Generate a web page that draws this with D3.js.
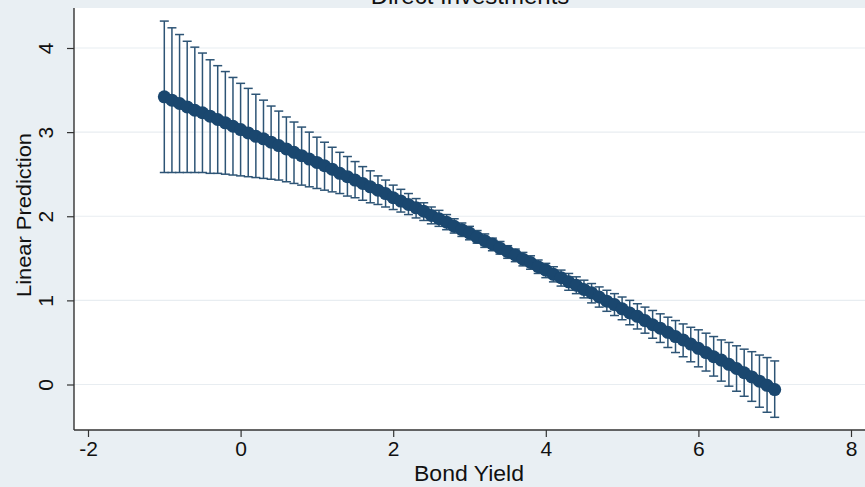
<!DOCTYPE html>
<html>
<head>
<meta charset="utf-8">
<script src="https://cdn.jsdelivr.net/npm/d3@7"></script>
<style>
  html, body { margin: 0; padding: 0; background: #e9eff3; }
  svg { display: block; font-family: "Liberation Sans", Arial, sans-serif; }
</style>
</head>
<body>
<svg id="chart" width="865" height="487"></svg>
<script>
// Predictive margins of the linear prediction over bond yield, with 95% CIs
const bondYield = d3.range(81).map(i => +(-1 + i * 0.1).toFixed(1));
const prediction = [
  3.42, 3.38, 3.34, 3.30, 3.26, 3.23, 3.19, 3.15, 3.11, 3.07,
  3.03, 2.99, 2.95, 2.92, 2.88, 2.84, 2.80, 2.76, 2.72, 2.68,
  2.64, 2.60, 2.56, 2.51, 2.47, 2.43, 2.39, 2.35, 2.31, 2.27,
  2.22, 2.18, 2.14, 2.10, 2.06, 2.01, 1.97, 1.93, 1.88, 1.84,
  1.80, 1.75, 1.71, 1.67, 1.62, 1.58, 1.54, 1.49, 1.45, 1.40,
  1.36, 1.31, 1.27, 1.22, 1.18, 1.13, 1.09, 1.04, 0.99, 0.95,
  0.90, 0.85, 0.81, 0.76, 0.71, 0.67, 0.62, 0.57, 0.53, 0.48,
  0.43, 0.38, 0.33, 0.29, 0.24, 0.19, 0.14, 0.09, 0.04, -0.01,
  -0.06
];
const ciLower = [
  2.52, 2.52, 2.52, 2.52, 2.52, 2.52, 2.51, 2.51, 2.50, 2.49,
  2.48, 2.47, 2.46, 2.45, 2.44, 2.43, 2.41, 2.39, 2.37, 2.35,
  2.33, 2.31, 2.29, 2.27, 2.24, 2.22, 2.19, 2.16, 2.14, 2.11,
  2.08, 2.05, 2.02, 1.98, 1.95, 1.91, 1.88, 1.84, 1.80, 1.76,
  1.72, 1.68, 1.63, 1.59, 1.55, 1.50, 1.46, 1.41, 1.37, 1.32,
  1.27, 1.22, 1.17, 1.12, 1.08, 1.03, 0.97, 0.92, 0.87, 0.82,
  0.77, 0.71, 0.66, 0.61, 0.55, 0.50, 0.44, 0.38, 0.33, 0.27,
  0.21, 0.16, 0.10, 0.04, -0.02, -0.08, -0.14, -0.20, -0.27, -0.33,
  -0.39
];
const ciUpper = [
  4.32, 4.24, 4.16, 4.08, 4.01, 3.94, 3.86, 3.79, 3.72, 3.65,
  3.58, 3.52, 3.45, 3.38, 3.31, 3.25, 3.18, 3.12, 3.06, 3.00,
  2.94, 2.88, 2.82, 2.76, 2.71, 2.65, 2.59, 2.54, 2.48, 2.43,
  2.37, 2.32, 2.27, 2.21, 2.16, 2.11, 2.07, 2.02, 1.97, 1.92,
  1.88, 1.83, 1.79, 1.74, 1.70, 1.65, 1.61, 1.57, 1.53, 1.48,
  1.44, 1.40, 1.36, 1.32, 1.28, 1.24, 1.20, 1.16, 1.12, 1.08,
  1.04, 1.00, 0.96, 0.92, 0.88, 0.84, 0.80, 0.76, 0.72, 0.68,
  0.65, 0.61, 0.57, 0.53, 0.50, 0.46, 0.42, 0.39, 0.35, 0.32,
  0.28
];
const xTicks = [-2, 0, 2, 4, 6, 8];
const yTicks = [0, 1, 2, 3, 4];

const titleText = "Direct Investments";
const xTitle = "Bond Yield";
const yTitle = "Linear Prediction";

const navy = "#1a476f";
const svg = d3.select("#chart");

// plot region
const plot = { left: 74, right: 866, top: 8, bottom: 430 };
const x = d3.scaleLinear().domain([-2, 8]).range([88, 851]);
const y = d3.scaleLinear().domain([0, 4]).range([384.5, 48]);

svg.append("rect")
  .attr("x", plot.left).attr("y", plot.top)
  .attr("width", plot.right - plot.left).attr("height", plot.bottom - plot.top)
  .attr("fill", "#ffffff");

// horizontal grid
svg.append("g").selectAll("line").data(yTicks).join("line")
  .attr("x1", plot.left).attr("x2", plot.right)
  .attr("y1", d => y(d)).attr("y2", d => y(d))
  .attr("stroke", "#e8edf1").attr("stroke-width", 1.2);

// y axis
const yAxis = svg.append("g")
  .attr("transform", `translate(${plot.left},0)`)
  .call(d3.axisLeft(y).tickValues(yTicks).tickSize(7).tickPadding(0).tickFormat(d3.format("d")));
yAxis.select(".domain").remove();
yAxis.selectAll(".tick line").attr("stroke", "#333").attr("stroke-width", 1.2);
yAxis.selectAll(".tick text")
  .attr("transform", "rotate(-90)")
  .attr("x", 0).attr("y", -21).attr("dy", 0)
  .attr("text-anchor", "middle")
  .attr("font-size", 21).attr("fill", "#111");
svg.append("line")
  .attr("x1", plot.left).attr("x2", plot.left)
  .attr("y1", plot.top).attr("y2", plot.bottom)
  .attr("stroke", "#333").attr("stroke-width", 1.4);

// x axis
const xAxis = svg.append("g")
  .attr("transform", `translate(0,${plot.bottom})`)
  .call(d3.axisBottom(x).tickValues(xTicks).tickSize(7).tickPadding(4).tickFormat(d3.format("d")));
xAxis.select(".domain").remove();
xAxis.selectAll(".tick line").attr("stroke", "#333").attr("stroke-width", 1.2);
xAxis.selectAll(".tick text")
  .attr("dy", "0.71em")
  .attr("font-size", 21).attr("fill", "#111")
  .text(d => d < 0 ? "-" + Math.abs(d) : d);
svg.append("line")
  .attr("x1", plot.left).attr("x2", plot.right)
  .attr("y1", plot.bottom).attr("y2", plot.bottom)
  .attr("stroke", "#333").attr("stroke-width", 1.4);

// axis titles
svg.append("text")
  .attr("x", 469).attr("y", 481)
  .attr("text-anchor", "middle").attr("font-size", 22).attr("fill", "#111")
  .attr("textLength", 110).attr("lengthAdjust", "spacingAndGlyphs")
  .text(xTitle);
svg.append("text")
  .attr("transform", `translate(31,215) rotate(-90)`)
  .attr("text-anchor", "middle").attr("font-size", 21).attr("fill", "#111")
  .attr("textLength", 164).attr("lengthAdjust", "spacingAndGlyphs")
  .text(yTitle);

// title (sits at the top edge)
svg.append("text")
  .attr("x", 470).attr("y", 4)
  .attr("text-anchor", "middle").attr("font-size", 24).attr("fill", "#111")
  .text(titleText);

// confidence interval caps
const rows = bondYield.map((b, i) => ({ b, p: prediction[i], lo: ciLower[i], hi: ciUpper[i] }));
const capW = 4.5;
const ci = svg.append("g").attr("stroke", "#2d5475").attr("stroke-width", 1.5).attr("fill", "none");
ci.selectAll("line.bar").data(rows).join("line").attr("class", "bar")
  .attr("x1", d => x(d.b)).attr("x2", d => x(d.b))
  .attr("y1", d => y(d.lo)).attr("y2", d => y(d.hi));
ci.selectAll("line.top").data(rows).join("line").attr("class", "top")
  .attr("x1", d => x(d.b) - capW).attr("x2", d => x(d.b) + capW)
  .attr("y1", d => y(d.hi)).attr("y2", d => y(d.hi));
ci.selectAll("line.bot").data(rows).join("line").attr("class", "bot")
  .attr("x1", d => x(d.b) - capW).attr("x2", d => x(d.b) + capW)
  .attr("y1", d => y(d.lo)).attr("y2", d => y(d.lo));

// connected prediction
svg.append("path").datum(rows)
  .attr("fill", "none").attr("stroke", navy).attr("stroke-width", 10)
  .attr("d", d3.line().x(d => x(d.b)).y(d => y(d.p)));
svg.append("g").selectAll("circle").data(rows).join("circle")
  .attr("cx", d => x(d.b)).attr("cy", d => y(d.p)).attr("r", 6.5)
  .attr("fill", navy);
</script>
</body>
</html>
